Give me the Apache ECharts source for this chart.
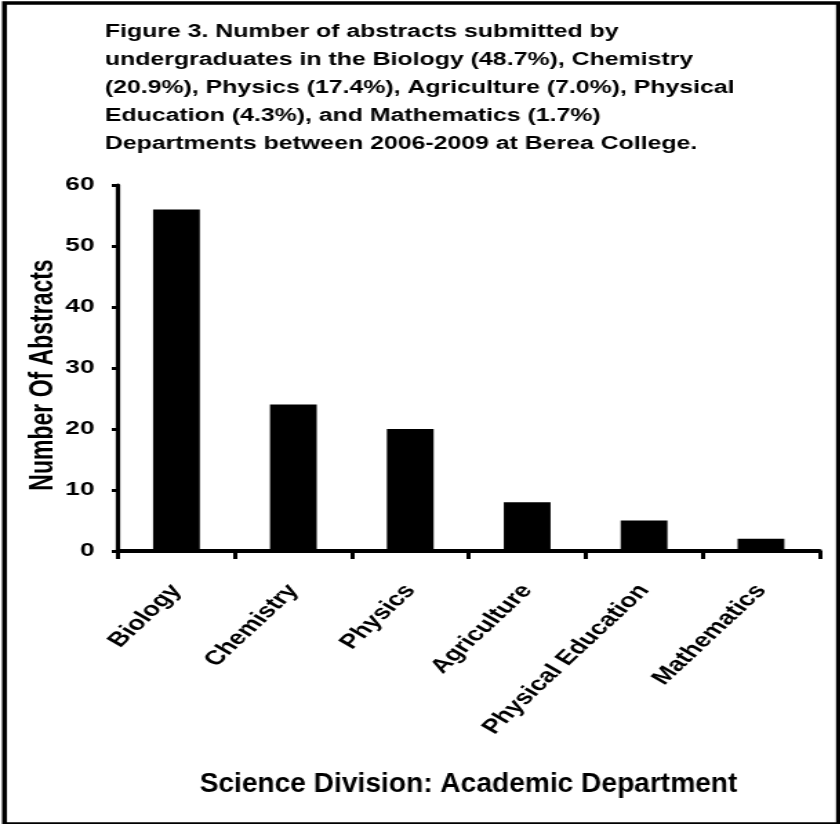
<!DOCTYPE html>
<html>
<head>
<meta charset="utf-8">
<script src="https://cdn.jsdelivr.net/npm/echarts@6/dist/echarts.min.js"></script>
<style>
  html, body { margin: 0; padding: 0; background: #fff; }
  #frame { width: 840px; height: 824px; overflow: hidden; position: relative; }
  #chart { height: 824px; transform-origin: 0 0; }
</style>
</head>
<body>
<div id="frame"><div id="chart"></div></div>
<script>
// Abstracts submitted by undergraduates, per science department, 2006-2009
const departments = ['Biology', 'Chemistry', 'Physics', 'Agriculture', 'Physical Education', 'Mathematics'];
const abstractCounts = [56, 24, 20, 8, 5, 2];
const yTicks = [0, 10, 20, 30, 40, 50, 60];

const titleText = 'Figure 3. Number of abstracts submitted by\n' +
  'undergraduates in the Biology (48.7%), Chemistry\n' +
  '(20.9%), Physics (17.4%), Agriculture (7.0%), Physical\n' +
  'Education (4.3%), and Mathematics (1.7%)\n' +
  'Departments between 2006-2009 at Berea College.';
const xAxisTitle = 'Science Division: Academic Department';
const yAxisTitle = 'Number Of Abstracts';

// The figure is laid out on a narrower canvas and widened horizontally,
// which gives the broad, stretched lettering of the printed figure.
const STRETCH = 1.38;
const PAGE_W = 840;
const innerW = PAGE_W / STRETCH;
const hx = v => v / STRETCH;   // page x-distance -> canvas x-distance

const el = document.getElementById('chart');
el.style.width = innerW + 'px';
el.style.transform = 'scaleX(' + STRETCH + ')';

const FONT = '"Liberation Sans", Arial, sans-serif';
const chart = echarts.init(el, null, { renderer: 'canvas' });

const gridLeft = 118, gridRight = 819;   // page x of the plot edges

chart.setOption({
  backgroundColor: '#fff',
  animation: false,
  graphic: [
    {
      type: 'rect',
      left: hx(1), top: 0.5,
      shape: { width: hx(834), height: 821 },
      style: { fill: 'none', stroke: '#000', lineWidth: 3.5 },
      silent: true
    },
    {
      // x-axis title: set in a condensed width, unlike the widened labels
      type: 'text',
      x: hx((gridLeft + gridRight) / 2),
      y: 771,
      scaleX: 0.755,
      silent: true,
      style: {
        text: xAxisTitle,
        x: 0, y: 0,
        align: 'center',
        verticalAlign: 'top',
        font: 'bold 27px ' + FONT,
        fill: '#000'
      }
    }
  ],
  title: {
    text: titleText,
    left: hx(105),
    top: 18,
    padding: 0,
    textStyle: { fontFamily: FONT, fontWeight: 'bold', fontSize: 18, lineHeight: 28, color: '#000' }
  },
  grid: { left: hx(gridLeft), right: hx(PAGE_W - gridRight), top: 185, bottom: 273, containLabel: false },
  xAxis: {
    type: 'category',
    data: departments,
    boundaryGap: true,
    axisLine: { lineStyle: { color: '#000', width: 4 } },
    axisTick: { show: true, length: 8, lineStyle: { color: '#000', width: 3 } },
    axisLabel: {
      rotate: 52, interval: 0, margin: 36,
      fontFamily: FONT, fontWeight: 'bold', fontSize: 20, color: '#000'
    },
    splitLine: { show: false }
  },
  yAxis: {
    type: 'value',
    min: yTicks[0],
    max: yTicks[yTicks.length - 1],
    interval: 10,
    name: yAxisTitle,
    nameLocation: 'middle',
    nameGap: 42,
    nameMoveOverlap: false,
    nameTextStyle: {
      fontFamily: FONT, fontWeight: 'bold', fontSize: 23, color: '#000',
      padding: [0, 14, 0, 0]
    },
    axisLine: { show: true, lineStyle: { color: '#000', width: 3.2 } },
    axisTick: { show: true, length: 4.5, lineStyle: { color: '#000', width: 3 } },
    axisLabel: { margin: 17, fontFamily: FONT, fontWeight: 'bold', fontSize: 19, color: '#000' },
    splitLine: { show: false }
  },
  series: [{
    type: 'bar',
    data: abstractCounts,
    barWidth: '40%',
    itemStyle: { color: '#000' }
  }]
});
</script>
</body>
</html>
